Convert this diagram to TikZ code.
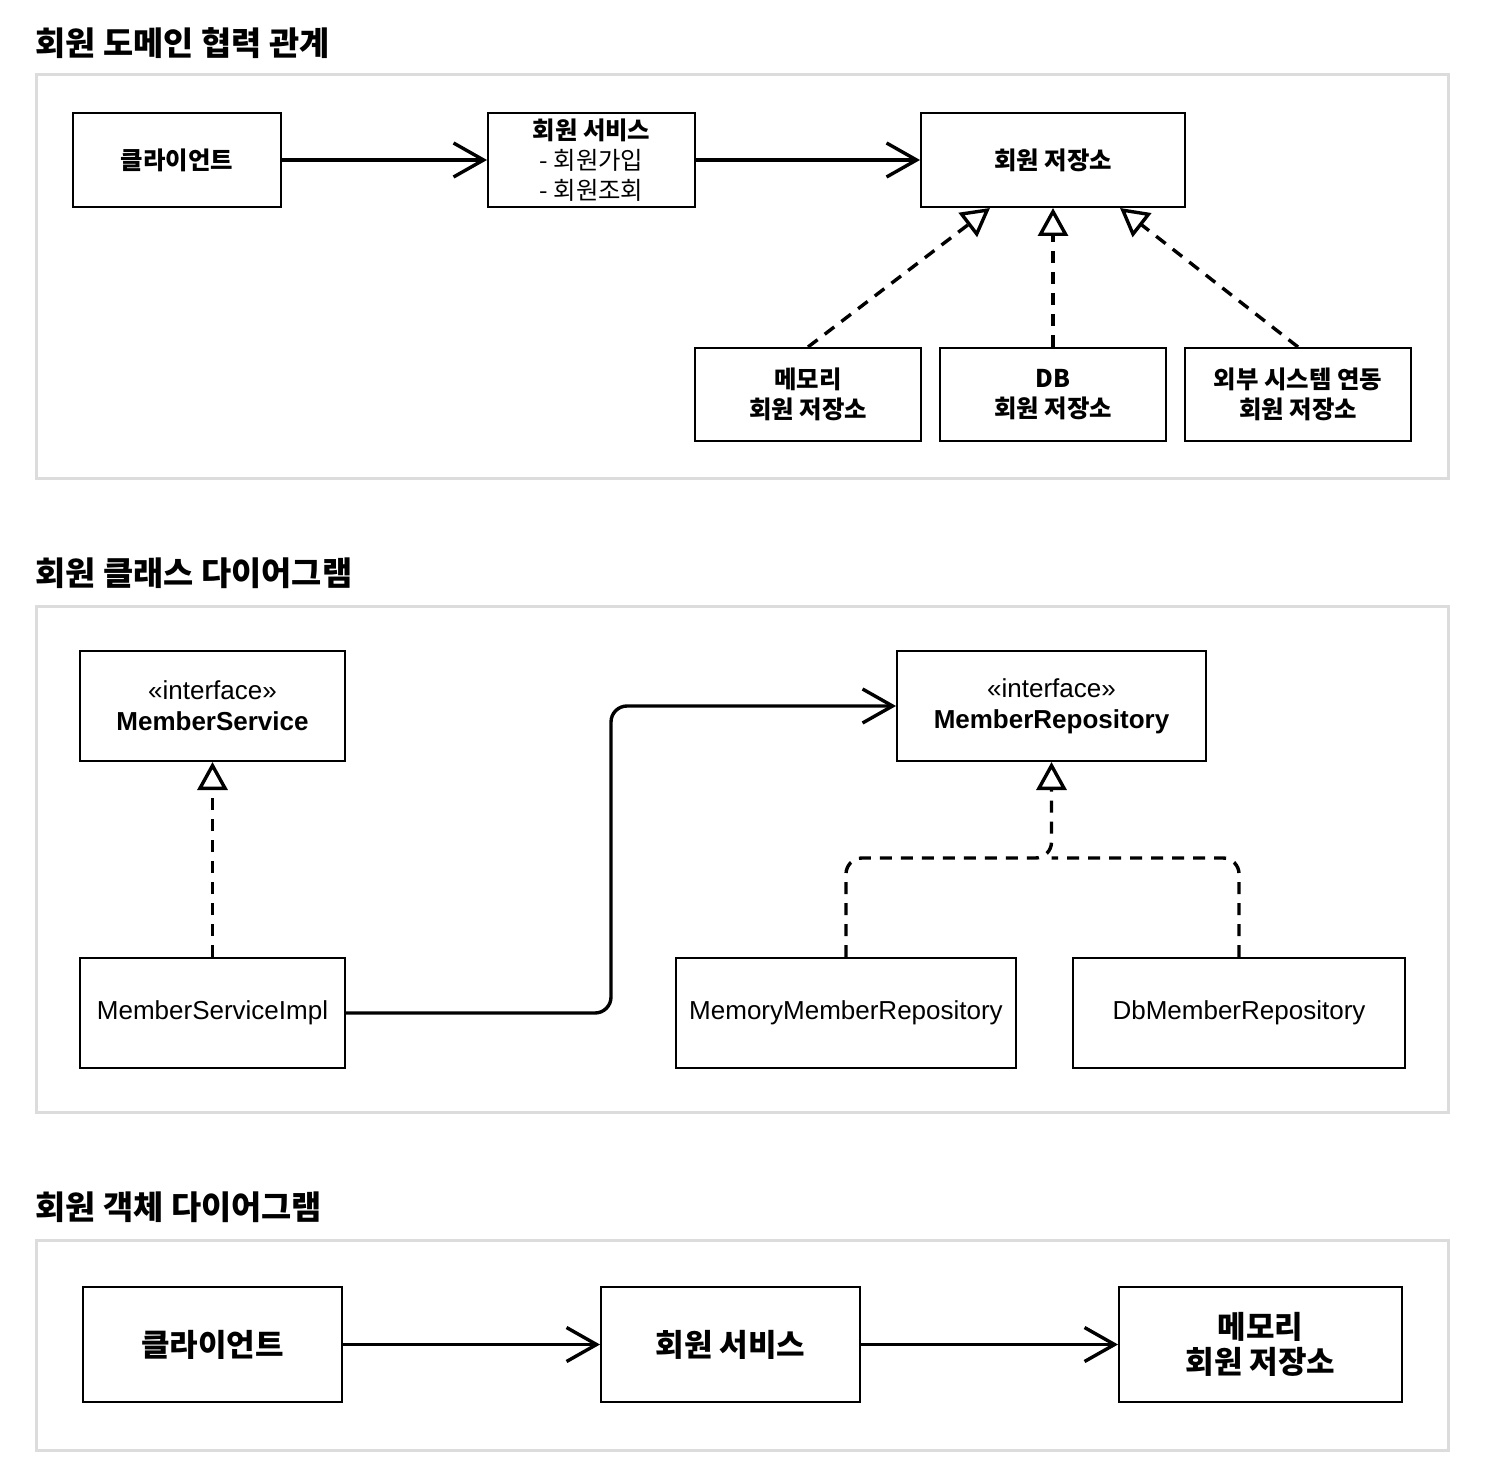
\documentclass[tikz,border=0pt]{standalone}
\usepackage{fontspec}
\setmainfont{Liberation Sans}
\newfontfamily\krfont{Noto Sans CJK KR}
\usetikzlibrary{arrows.meta, positioning}
\definecolor{panelgray}{HTML}{DCDCDC}

\begin{document}
\begin{tikzpicture}[x=0.5pt, y=-0.5pt,
    panel/.style={draw=panelgray, line width=1.5pt},
    title/.style={anchor=west, inner sep=0pt,
                  font=\krfont\bfseries\fontsize{16.4}{20}\selectfont},
    box/.style={draw, line width=1pt, align=center, inner sep=0pt},
    sz/.style 2 args={minimum width=#1*0.5pt, minimum height=#2*0.5pt},
    kr/.style={font=\krfont\bfseries\fontsize{12.2}{15}\selectfont},
    krbig/.style={font=\krfont\bfseries\fontsize{15.5}{17.5}\selectfont},
    cls/.style={font=\fontsize{13}{15.5}\selectfont},
    open/.style={-{Straight Barb[length=15pt, width=17pt]}, line width=1.7pt},
    dashline/.style={line width=1.7pt, dash pattern=on 6pt off 4.5pt},
    real/.style={dashline, -{Triangle[open, length=14pt, width=15pt]}}
  ]
    \useasboundingbox (0,0) rectangle (1508,1470);

    % panels
    \draw[panel] (36,75) rectangle (1448,478);
    \draw[panel] (36,606) rectangle (1448,1112);
    \draw[panel] (36,1240) rectangle (1448,1450);

    \node[title] (t1) at (35,43) {회원 도메인 협력 관계};
    \node[title] (t2) at (35,573) {회원 클래스 다이어그램};
    \node[title] (t3) at (35,1207) {회원 객체 다이어그램};

    % domain collaboration
    \node[box, kr, sz={208}{94}] (client) at (177,160) {클라이언트};
    \node[box, sz={207}{94}, font=\krfont\fontsize{12.2}{15}\selectfont]
      (service) at (591.5,160) {\textbf{회원 서비스}\\- 회원가입\\- 회원조회};
    \node[box, kr, sz={264}{94}] (store) at (1053,160) {회원 저장소};
    \node[box, kr, sz={226}{93}] (memstore) at (808,394.5) {메모리\\회원 저장소};
    \node[box, kr, sz={226}{93}] (dbstore) at (1053,394.5) {DB\\회원 저장소};
    \node[box, kr, sz={226}{93}] (extstore) at (1298,394.5) {외부 시스템 연동\\회원 저장소};

    \draw[open] (client.east) -- (service.west);
    \draw[open] (service.east) -- (store.west);
    \draw[real] (memstore.north) -- ([xshift=-31.5pt]store.south);
    \draw[real] (dbstore.north) -- (store.south);
    \draw[real] (extstore.north) -- ([xshift=33.5pt]store.south);

    % class diagram
    \node[box, cls, sz={265}{110}] (msvc) at (212.5,706)
      {«interface»\\\textbf{MemberService}};
    \node[box, cls, sz={265}{110}] (msvcimpl) at (212.5,1013) {MemberServiceImpl};
    \node[box, cls, sz={309}{110}] (mrepo) at (1051.5,706)
      {«interface»\\\textbf{MemberRepository}};
    \node[box, cls, sz={340}{110}] (memrepo) at (846,1013) {MemoryMemberRepository};
    \node[box, cls, sz={332}{110}] (dbrepo) at (1239,1013) {DbMemberRepository};
    \coordinate (join) at (1051.5,858);

    \draw[real] (msvcimpl.north) -- (msvc.south);
    \draw[open, rounded corners=8pt] (msvcimpl.east) -- ++(265,0) |- (mrepo.west);
    \draw[real, rounded corners=8pt] (memrepo.north) |- (join) -- (mrepo.south);
    \draw[dashline, rounded corners=8pt] (dbrepo.north) |- (join);

    % object diagram
    \node[box, krbig, sz={259}{115}] (oclient) at (212.5,1344.5) {클라이언트};
    \node[box, krbig, sz={259}{115}] (oservice) at (730.5,1344.5) {회원 서비스};
    \node[box, krbig, sz={283}{115}] (ostore) at (1260.5,1344.5) {메모리\\회원 저장소};

    \draw[open] (oclient.east) -- (oservice.west);
    \draw[open] (oservice.east) -- (ostore.west);
  \end{tikzpicture}
\end{document}
